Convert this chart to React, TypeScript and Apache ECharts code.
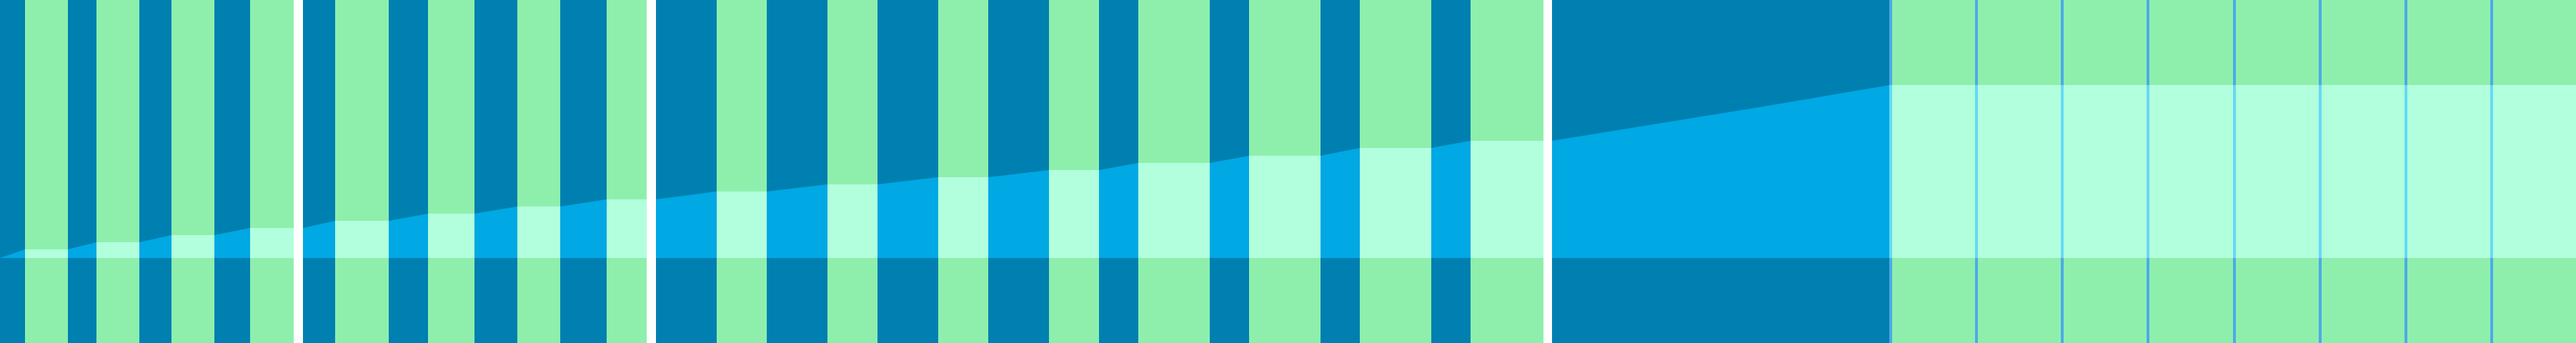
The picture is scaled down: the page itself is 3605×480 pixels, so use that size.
import React, { useEffect, useRef } from "react";
import * as echarts from "echarts";

// green bars: start and end on the x axis, and the level each one reaches
const barStart = [35, 135, 240, 350, 469, 599, 724, 849, 1003, 1158, 1313, 1468, 1593, 1748, 1903, 2058];
const barEnd = [95, 195, 300, 411, 544, 664, 784, 905, 1073, 1228, 1383, 1538, 1693, 1848, 2003, 2160];
const barValues = [12, 22, 32, 42, 52, 62, 72, 82, 93, 103, 113, 123, 133, 143, 154, 164];

// white breaks between the groups
const breakStart = [411, 905, 2160];
const breakEnd = [424, 918, 2172];

// the rise after the last bar, up to the wide block
const rampX = [2172, 2450, 2645];
const rampValues = [164, 209, 242];

// wide block on the right and its dividers
const blockStart = 2645;
const blockEnd = 3605;
const blockValue = 242;
const dividerX = [2646, 2766, 2886, 3006, 3127, 3247, 3367, 3487];

const X_MAX = 3605;
const Y_MIN = -119;
const Y_MAX = 361;

const DARK = "#0080b0";
const GREEN = "#8eefad";
const LIGHT_BLUE = "#00a8e4";
const LIGHT_GREEN = "#b2ffdd";
const DIVIDER = "#4eaae8";
const DIVIDER_LIGHT = "#66d9f5";

const App: React.FC = () => {
  const chartRef = useRef<HTMLDivElement>(null);

  useEffect(() => {
    document.body.style.margin = "0";
    if (!chartRef.current) return;
    const myChart = echarts.init(chartRef.current, null, { renderer: "svg" });

    const bars: number[][] = barStart.map((s, i) => [s, barEnd[i], barValues[i]]);
    bars.push([blockStart, blockEnd, blockValue]);

    // top edge of the area: flat over every bar, sloped in between
    const areaData: number[][] = [[0, 0]];
    barStart.forEach((s, i) => {
      areaData.push([s, barValues[i]], [barEnd[i], barValues[i]]);
    });
    breakStart.forEach((b, i) => {
      const idx = barEnd.lastIndexOf(b);
      if (idx >= 0) areaData.push([breakEnd[i], barValues[idx]]);
    });
    rampX.forEach((x, i) => areaData.push([x, rampValues[i]]));
    areaData.push([X_MAX, blockValue]);
    areaData.sort((a, b) => a[0] - b[0]);

    const option: any = {
      animation: false,
      backgroundColor: DARK,
      grid: { left: 0, right: 0, top: 0, bottom: 0 },
      xAxis: { type: "value", min: 0, max: X_MAX, show: false },
      yAxis: { type: "value", min: Y_MIN, max: Y_MAX, show: false },
      series: [
        {
          type: "line",
          data: areaData,
          symbol: "none",
          lineStyle: { width: 0 },
          areaStyle: { color: LIGHT_BLUE, opacity: 1 },
          z: 1,
        },
        {
          type: "custom",
          data: bars,
          z: 2,
          renderItem: (params: any, api: any) => {
            const x0 = api.value(0);
            const x1 = api.value(1);
            const v = api.value(2);
            const top = api.coord([x0, Y_MAX]);
            const bottom = api.coord([x1, Y_MIN]);
            const level = api.coord([x0, v]);
            const base = api.coord([x1, 0]);
            return {
              type: "group",
              children: [
                {
                  type: "rect",
                  shape: { x: top[0], y: top[1], width: bottom[0] - top[0], height: bottom[1] - top[1] },
                  style: { fill: GREEN },
                },
                {
                  type: "rect",
                  shape: { x: level[0], y: level[1], width: base[0] - level[0], height: base[1] - level[1] },
                  style: { fill: LIGHT_GREEN },
                },
              ],
            };
          },
        },
        {
          type: "custom",
          data: dividerX.map((x) => [x]),
          z: 3,
          renderItem: (params: any, api: any) => {
            const x = api.value(0);
            const top = api.coord([x, Y_MAX]);
            const level = api.coord([x, blockValue]);
            const base = api.coord([x, 0]);
            const bottom = api.coord([x, Y_MIN]);
            const seg = (a: number[], b: number[], c: string) => ({
              type: "line",
              shape: { x1: a[0], y1: a[1], x2: b[0], y2: b[1] },
              style: { stroke: c, lineWidth: 4 },
            });
            return {
              type: "group",
              children: [seg(top, level, DIVIDER), seg(level, base, DIVIDER_LIGHT), seg(base, bottom, DIVIDER)],
            };
          },
        },
        {
          type: "custom",
          data: breakStart.map((s, i) => [s, breakEnd[i]]),
          z: 4,
          renderItem: (params: any, api: any) => {
            const a = api.coord([api.value(0), Y_MAX]);
            const b = api.coord([api.value(1), Y_MIN]);
            return {
              type: "rect",
              shape: { x: a[0], y: a[1], width: b[0] - a[0], height: b[1] - a[1] },
              style: { fill: "#ffffff" },
            };
          },
        },
      ],
    };

    myChart.setOption(option);

    return () => {
      myChart.dispose();
    };
  }, []);

  return <div ref={chartRef} style={{ width: "3605px", height: "480px" }} />;
};

export default App;
